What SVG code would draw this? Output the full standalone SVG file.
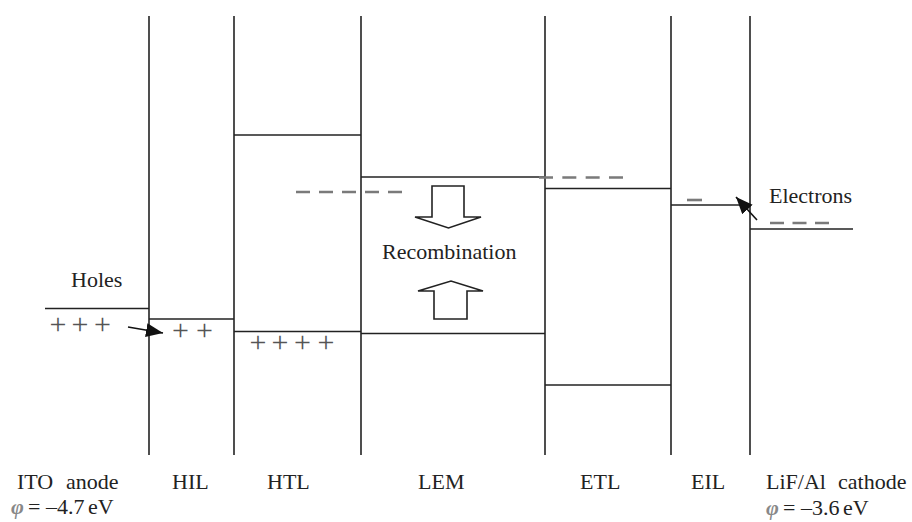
<svg xmlns="http://www.w3.org/2000/svg" width="912" height="522" viewBox="0 0 912 522">
<style>
.ln{stroke:#222;stroke-width:1.6;fill:none}
.dash{stroke:#7a7a7a;stroke-width:2.6;fill:none}
.lbl{font-family:'Liberation Serif','DejaVu Serif',serif;font-size:22px;fill:#222}
.plus{font-family:'Liberation Serif','DejaVu Serif',serif;font-size:30px;fill:#555;text-anchor:middle}
.phi{font-family:'Liberation Serif','DejaVu Serif',serif;font-style:italic;font-weight:bold;fill:#888}
.blk{stroke:#222;stroke-width:1.6;fill:#fff;stroke-linejoin:miter}
.arr{stroke:#111;stroke-width:1.6;fill:none}
</style>
<defs>
<marker id="ah" markerUnits="userSpaceOnUse" markerWidth="18" markerHeight="16" refX="17" refY="7" orient="auto">
<path d="M0,0 L17,7 L0,14 Z" fill="#111"/>
</marker>
</defs>
<rect width="912" height="522" fill="#fff"/>

<g id="ito">
<line class="ln" x1="45" y1="308.5" x2="149" y2="308.5"/>
<line class="ln" x1="149" y1="16" x2="149" y2="455"/>
<text class="lbl" x="71" y="287">Holes</text>
<text class="plus" x="58 80 102.5" y="334">+++</text>
<text class="lbl" x="17" y="489">ITO</text>
<text class="lbl" x="66" y="489">anode</text>
<text class="lbl" x="11" y="514"><tspan class="phi">φ</tspan><tspan x="28">= –4.7</tspan><tspan x="88">eV</tspan></text>
</g>

<g id="hil">
<line class="ln" x1="149" y1="319" x2="234" y2="319"/>
<line class="ln" x1="234" y1="16" x2="234" y2="455"/>
<text class="plus" x="180.5 204.5" y="340">++</text>
<text class="lbl" x="172" y="489">HIL</text>
</g>

<g id="htl">
<line class="ln" x1="234" y1="135" x2="361" y2="135"/>
<line class="ln" x1="234" y1="331.5" x2="361" y2="331.5"/>
<line class="ln" x1="361" y1="16" x2="361" y2="455"/>
<text class="plus" x="258 280 302.5 326" y="351.5">++++</text>
<line class="dash" x1="296" y1="192" x2="402" y2="192" stroke-dasharray="14 9"/>
<text class="lbl" x="267" y="489">HTL</text>
</g>

<g id="lem">
<line class="ln" x1="361" y1="177" x2="545" y2="177"/>
<line class="ln" x1="361" y1="333.5" x2="545" y2="333.5"/>
<polygon class="blk" points="432,186 464,186 464,217 481,217 448.5,228 415,217 432,217"/>
<text class="lbl" x="382" y="259">Recombination</text>
<polygon class="blk" points="434,319 467,319 467,291 483,291 451,281 418,291 434,291"/>
<text class="lbl" x="418" y="489">LEM</text>
</g>

<g id="etl">
<line class="ln" x1="545" y1="16" x2="545" y2="455"/>
<line class="ln" x1="545" y1="188.5" x2="671" y2="188.5"/>
<line class="ln" x1="545" y1="385" x2="671" y2="385"/>
<line class="dash" x1="539" y1="177.5" x2="623" y2="177.5" stroke-dasharray="14 9.33"/>
<text class="lbl" x="580" y="489">ETL</text>
</g>

<g id="eil">
<line class="ln" x1="671" y1="16" x2="671" y2="455"/>
<line class="ln" x1="671" y1="205" x2="750" y2="205"/>
<line class="dash" x1="687" y1="200" x2="702" y2="200"/>
<text class="lbl" x="691" y="489">EIL</text>
</g>

<g id="cathode">
<line class="ln" x1="750" y1="16" x2="750" y2="455"/>
<line class="ln" x1="750" y1="229" x2="853" y2="229"/>
<line class="dash" x1="770" y1="223" x2="829" y2="223" stroke-dasharray="14 8.5"/>
<text class="lbl" x="769" y="203">Electrons</text>
<text class="lbl" x="766" y="489">LiF/Al</text>
<text class="lbl" x="838" y="489">cathode</text>
<text class="lbl" x="766" y="515"><tspan class="phi">φ</tspan><tspan x="783">= –3.6</tspan><tspan x="843">eV</tspan></text>
</g>

<g id="connectors">
<line class="arr" x1="128" y1="327" x2="163" y2="333" marker-end="url(#ah)"/>
<line class="arr" x1="757" y1="220" x2="736" y2="197" marker-end="url(#ah)"/>
</g>
</svg>
